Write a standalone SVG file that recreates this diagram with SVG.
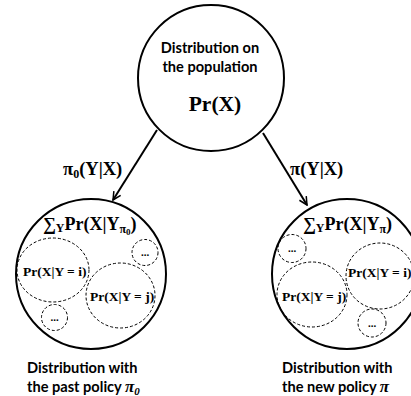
<svg xmlns="http://www.w3.org/2000/svg" width="411" height="396" viewBox="0 0 411 396">
<defs>
<style>
.node{fill:#fff;stroke:#000;stroke-width:2}
.dash{fill:none;stroke:#000;stroke-width:1;stroke-dasharray:3 2}
.edge{fill:none;stroke:#000;stroke-width:2}
.lbl{font-family:"Lato","Liberation Sans",sans-serif;font-weight:bold;font-size:14.6px;fill:#000}
.math{font-family:"Liberation Serif","DejaVu Serif",serif;font-weight:bold;fill:#000}
.mi{font-family:"Liberation Serif","DejaVu Serif",serif;font-weight:bold;font-style:italic}
</style>
<marker id="arr" viewBox="0 0 10 10" refX="9" refY="5" markerWidth="5" markerHeight="5" orient="auto" markerUnits="strokeWidth">
<path d="M1,1 L9,5 L1,9" fill="none" stroke="#000" stroke-width="1.5"/>
</marker>
</defs>
<rect width="411" height="396" fill="#fff"/>
<g id="connectors">
<line class="edge" x1="157" y1="130" x2="113" y2="200" marker-end="url(#arr)"/>
<line class="edge" x1="263" y1="133" x2="307" y2="205" marker-end="url(#arr)"/>
<text class="math" x="63" y="175" font-size="18.5">π<tspan font-size="12" dy="3">0</tspan><tspan dy="-3">(Y|X)</tspan></text>
<text class="math" x="290" y="175" font-size="18.5">π(Y|X)</text>
</g>
<g id="population">
<circle class="node" cx="211" cy="78" r="73"/>
<text class="lbl" x="210" y="53" text-anchor="middle">Distribution on</text>
<text class="lbl" x="210" y="72" text-anchor="middle">the population</text>
<text class="math" x="215" y="111" font-size="21.5" text-anchor="middle">Pr(X)</text>
</g>
<g id="past">
<circle class="node" cx="91" cy="274" r="75"/>
<text class="math" x="43" y="230" font-size="18">∑<tspan font-size="12" dy="2">Y</tspan><tspan dy="-2">Pr(X|Y</tspan><tspan font-size="12" dy="3">π</tspan><tspan font-size="9" dy="2">0</tspan><tspan dy="-5">)</tspan></text>
<ellipse class="dash" cx="53" cy="270" rx="36" ry="32"/>
<ellipse class="dash" cx="120.5" cy="295.5" rx="34.5" ry="32.5"/>
<circle class="dash" cx="145" cy="252.5" r="13"/>
<circle class="dash" cx="54.5" cy="317.5" r="13"/>
<text class="math" x="23" y="276" font-size="13.5">Pr(X|Y = i)</text>
<text class="math" x="90" y="301" font-size="13.5">Pr(X|Y = j)</text>
<text class="math" x="145" y="256" font-size="11" text-anchor="middle">...</text>
<text class="math" x="54.5" y="321" font-size="11" text-anchor="middle">...</text>
<text class="lbl" x="27" y="373">Distribution with</text>
<text class="lbl" x="27" y="392">the past policy <tspan class="mi" font-size="17">π</tspan><tspan class="mi" font-size="11" dy="3">0</tspan></text>
</g>
<g id="new">
<circle class="node" cx="347" cy="274" r="75"/>
<text class="math" x="303" y="230" font-size="18">∑<tspan font-size="12" dy="2">Y</tspan><tspan dy="-2">Pr(X|Y</tspan><tspan font-size="12" dy="3">π</tspan><tspan dy="-3">)</tspan></text>
<circle class="dash" cx="292" cy="248.5" r="14"/>
<ellipse class="dash" cx="312" cy="294.5" rx="35" ry="32.5"/>
<ellipse class="dash" cx="380" cy="276" rx="34" ry="33"/>
<circle class="dash" cx="372" cy="323" r="14"/>
<text class="math" x="282" y="301" font-size="13.5">Pr(X|Y = j)</text>
<text class="math" x="348" y="277" font-size="13.5">Pr(X|Y = i)</text>
<text class="math" x="292" y="252" font-size="11" text-anchor="middle">...</text>
<text class="math" x="372" y="327" font-size="11" text-anchor="middle">...</text>
<text class="lbl" x="282" y="373">Distribution with</text>
<text class="lbl" x="282" y="392">the new policy <tspan class="mi" font-size="17">π</tspan></text>
</g>
</svg>
